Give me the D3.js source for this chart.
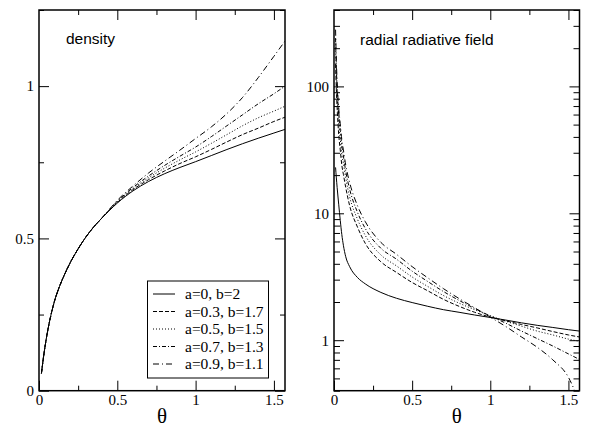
<!DOCTYPE html>
<html><head><meta charset="utf-8">
<script src="https://cdn.jsdelivr.net/npm/d3@7"></script>
<style>
html,body{margin:0;padding:0;background:#fff;}
svg{display:block;}
</style></head>
<body>
<svg id="c" width="595" height="430"></svg>
<script>
// ---------- data ----------
const seriesLabels = ["a=0, b=2", "a=0.3, b=1.7", "a=0.5, b=1.5", "a=0.7, b=1.3", "a=0.9, b=1.1"];
const xTickLabels = [0, 0.5, 1, 1.5];
const densityTicks = [0, 0.5, 1];
const fieldTicks = [1, 10, 100];

const thetaD = [0.0155, 0.03, 0.045, 0.06, 0.077, 0.1, 0.13, 0.16, 0.2, 0.25, 0.3, 0.35, 0.4, 0.45, 0.5, 0.6, 0.7, 0.8, 0.9, 1.0, 1.1, 1.2, 1.3, 1.4, 1.5, 1.5708];
const dens_a0  = [0.057,0.115,0.166,0.209,0.250,0.296,0.341,0.378,0.421,0.466,0.505,0.538,0.566,0.592,0.616,0.656,0.687,0.712,0.733,0.752,0.772,0.792,0.811,0.829,0.846,0.858];
const dens_a03 = [0.057,0.115,0.166,0.209,0.250,0.296,0.341,0.378,0.421,0.466,0.505,0.538,0.566,0.593,0.618,0.660,0.693,0.721,0.746,0.768,0.792,0.817,0.841,0.862,0.884,0.898];
const dens_a05 = [0.057,0.115,0.166,0.209,0.250,0.296,0.341,0.378,0.421,0.466,0.505,0.538,0.566,0.594,0.620,0.663,0.699,0.730,0.758,0.784,0.812,0.841,0.870,0.896,0.918,0.934];
const dens_a07 = [0.057,0.115,0.166,0.209,0.250,0.296,0.341,0.378,0.421,0.466,0.505,0.538,0.566,0.595,0.622,0.667,0.705,0.739,0.770,0.800,0.834,0.870,0.906,0.942,0.975,1.000];
const dens_a09 = [0.057,0.115,0.166,0.209,0.250,0.296,0.341,0.378,0.421,0.466,0.505,0.538,0.566,0.596,0.625,0.672,0.715,0.753,0.790,0.828,0.866,0.910,0.963,1.028,1.098,1.148];

const thetaR = [0.01, 0.015, 0.02, 0.03, 0.04, 0.05, 0.06, 0.075, 0.1, 0.15, 0.2, 0.3, 0.4, 0.5, 0.6, 0.7, 0.8, 0.9, 1.0, 1.1, 1.2, 1.3, 1.4, 1.5, 1.5708];
const field_a0  = [23, 19, 16, 11.8, 8.8, 6.8, 5.6, 4.55, 3.8, 3.12, 2.78, 2.38, 2.14, 1.98, 1.85, 1.74, 1.66, 1.58, 1.51, 1.44, 1.37, 1.31, 1.26, 1.21, 1.18];
const field_a03 = [150, 95, 68, 42, 31.5, 24, 20.3, 16, 11.5, 7.8, 5.8, 4.15, 3.42, 2.85, 2.45, 2.1, 1.85, 1.66, 1.52, 1.42, 1.33, 1.25, 1.17, 1.1, 1.06];
const field_a05 = [200, 120, 85, 52, 38.8, 29, 24.7, 19, 13.5, 9.0, 6.7, 4.7, 3.85, 3.15, 2.65, 2.25, 1.96, 1.74, 1.56, 1.41, 1.29, 1.18, 1.1, 1.02, 0.98];
const field_a07 = [240, 140, 97, 60, 45, 34, 28.3, 21.5, 15.5, 10.2, 7.6, 5.3, 4.35, 3.5, 2.9, 2.42, 2.06, 1.78, 1.55, 1.36, 1.18, 1.03, 0.9, 0.78, 0.705];
const field_a09 = [280, 160, 110, 68, 50.8, 38, 31.6, 24, 17.5, 11.5, 8.6, 5.9, 4.75, 3.8, 3.1, 2.55, 2.13, 1.8, 1.52, 1.28, 1.06, 0.88, 0.7, 0.51, 0.32];

// ---------- drawing ----------
const dashes = [null, "4,2", "1,2", "4,2,1,2", "6,3,1,3"];
const svg = d3.select("#c");
const serif = "'Liberation Serif','Times New Roman',serif";
const sans = "'Liberation Sans',Arial,sans-serif";

function panel(opt) {
  const {x0, x1, y0, y1, yScale, series, theta, title, titleX, id} = opt;
  const x = d3.scaleLinear().domain([0, Math.PI / 2]).range([x0, x1]);
  const y = yScale.range([y1, y0]);
  const g = svg.append("g");
  g.append("clipPath").attr("id", id).append("rect")
    .attr("x", x0).attr("y", y0).attr("width", x1 - x0).attr("height", y1 - y0);

  const line = d3.line().x(d => x(d[0])).y(d => y(d[1])).curve(d3.curveMonotoneX);
  series.forEach((s, i) => {
    g.append("path").attr("clip-path", `url(#${id})`)
      .attr("d", line(theta.map((t, k) => [t, s[k]])))
      .attr("fill", "none").attr("stroke", "#000").attr("stroke-width", 1)
      .attr("stroke-dasharray", dashes[i]);
  });

  const style = a => {
    a.select(".domain").remove();
    a.selectAll("line").attr("stroke", "#000").attr("stroke-width", 1);
    a.selectAll("text").attr("font-family", serif).attr("font-size", 15).attr("fill", "#000");
  };
  const majX = [0.5, 1, 1.5], minX = [0.25, 0.75, 1.25];
  g.append("g").attr("transform", `translate(0,${y1})`)
    .call(d3.axisBottom(x).tickValues(xTickLabels).tickSize(-10).tickPadding(4).tickFormat(d3.format("~g"))).call(style);
  g.append("g").attr("transform", `translate(0,${y1})`)
    .call(d3.axisBottom(x).tickValues(minX).tickSize(-5).tickFormat("")).call(style);
  g.append("g").attr("transform", `translate(0,${y0})`)
    .call(d3.axisTop(x).tickValues(majX).tickSize(-10).tickFormat("")).call(style);
  g.append("g").attr("transform", `translate(0,${y0})`)
    .call(d3.axisTop(x).tickValues(minX).tickSize(-5).tickFormat("")).call(style);

  g.append("g").attr("transform", `translate(${x0},0)`)
    .call(d3.axisLeft(y).tickValues(opt.majY).tickSize(-10).tickPadding(5).tickFormat(d3.format("~g"))).call(style);
  g.append("g").attr("transform", `translate(${x0},0)`)
    .call(d3.axisLeft(y).tickValues(opt.minY).tickSize(-opt.minLen).tickFormat("")).call(style);
  g.append("g").attr("transform", `translate(${x1},0)`)
    .call(d3.axisRight(y).tickValues(opt.majY).tickSize(-10).tickFormat("")).call(style);
  g.append("g").attr("transform", `translate(${x1},0)`)
    .call(d3.axisRight(y).tickValues(opt.minY).tickSize(-opt.minLen).tickFormat("")).call(style);

  g.append("rect").attr("x", x0).attr("y", y0).attr("width", x1 - x0).attr("height", y1 - y0)
    .attr("fill", "none").attr("stroke", "#000").attr("stroke-width", 1.5);

  g.append("text").attr("x", (x0 + x1) / 2).attr("y", 423).attr("text-anchor", "middle")
    .attr("font-family", serif).attr("font-size", 21).text("θ");
  g.append("text").attr("x", titleX).attr("y", opt.titleY).attr("font-family", sans)
    .attr("font-size", 15.5).text(title);
  return {g, x, y};
}

panel({
  id: "clipL", x0: 39, x1: 285, y0: 10, y1: 390.7,
  yScale: d3.scaleLinear().domain([0, 1.25]),
  series: [dens_a0, dens_a03, dens_a05, dens_a07, dens_a09], theta: thetaD,
  majY: densityTicks, minY: [0.25, 0.75, 1.25], minLen: 5,
  title: "density", titleX: 66, titleY: 44
});

const minorLog = [];
[0.1, 1, 10, 100].forEach(dec => { for (let m = 2; m <= 9; m++) { const v = +(m * dec).toPrecision(3); if (v >= 0.4 && v <= 400) minorLog.push(v); } });

panel({
  id: "clipR", x0: 334, x1: 579.5, y0: 10, y1: 390.7,
  yScale: d3.scaleLog().domain([0.4, 400]),
  series: [field_a0, field_a03, field_a05, field_a07, field_a09], theta: thetaR,
  majY: fieldTicks, minY: minorLog, minLen: 6,
  title: "radial radiative field", titleX: 360, titleY: 45
});

// legend
const lg = svg.append("g");
lg.append("rect").attr("x", 147.5).attr("y", 281).attr("width", 121).attr("height", 97)
  .attr("fill", "#fff").attr("stroke", "#000").attr("stroke-width", 1);
seriesLabels.forEach((s, i) => {
  const yy = 294 + i * 17.5;
  lg.append("line").attr("x1", 153).attr("x2", 175).attr("y1", yy).attr("y2", yy)
    .attr("stroke", "#000").attr("stroke-width", 1).attr("stroke-dasharray", dashes[i]);
  lg.append("text").attr("x", 185).attr("y", yy + 5).attr("font-family", serif)
    .attr("font-size", 15.5).text(s);
});
</script>
</body></html>
